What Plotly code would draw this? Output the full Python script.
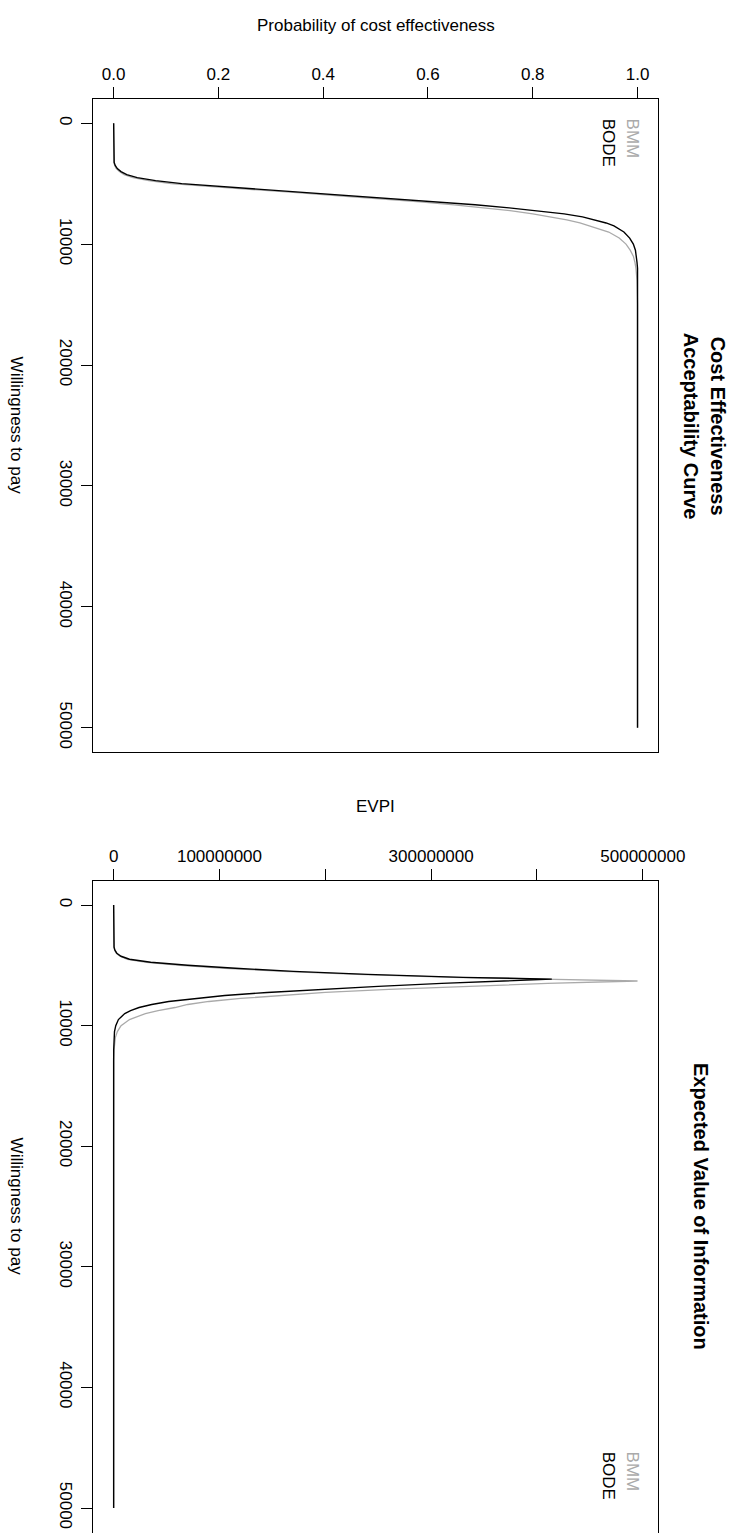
import plotly.graph_objects as go

W_PX, H_PX = 754, 1533

# ---------------- data ----------------
wtp = [0, 1000, 2000, 3000, 3250, 3500, 3750, 4000, 4250, 4500, 4750, 5000,
       5250, 5500, 5750, 6000, 6150, 6300, 6500, 6750, 7000, 7250, 7500, 7750,
       8000, 8250, 8500, 8750, 9000, 9500, 10000, 10500, 11000, 11500, 12000,
       13000, 14000, 15000, 20000, 30000, 40000, 50000]

ceac_bode = [0, 0, 0, 0, 0.001, 0.003, 0.007, 0.014, 0.025, 0.045, 0.08, 0.13,
             0.21, 0.30, 0.38, 0.46, 0.51, 0.555, 0.62, 0.69, 0.755, 0.81, 0.86, 0.895,
             0.92, 0.94, 0.955, 0.966, 0.974, 0.985, 0.992, 0.996, 0.998, 0.999, 1.0,
             1.0, 1.0, 1.0, 1.0, 1.0, 1.0, 1.0]

ceac_bmm = [0, 0, 0, 0, 0.0005, 0.002, 0.005, 0.011, 0.02, 0.037, 0.067, 0.11,
            0.185, 0.27, 0.35, 0.43, 0.48, 0.525, 0.585, 0.65, 0.71, 0.76, 0.80, 0.835,
            0.865, 0.89, 0.91, 0.93, 0.945, 0.965, 0.978, 0.986, 0.992, 0.995, 0.997,
            0.999, 1.0, 1.0, 1.0, 1.0, 1.0, 1.0]

evpi_bode = [0, 0, 0, 0, 1e5, 4e5, 1.2e6, 3e6, 7e6, 1.5e7, 3.5e7, 7e7,
             1.15e8, 1.7e8, 2.4e8, 3.3e8, 4.14e8, 3.68e8, 3.1e8, 2.5e8, 1.9e8, 1.45e8, 1.05e8, 7.5e7,
             5.2e7, 3.6e7, 2.4e7, 1.6e7, 1.05e7, 4.5e6, 2e6, 8e5, 3.5e5, 1.5e5, 5e4,
             0, 0, 0, 0, 0, 0, 0]

evpi_bmm = [0, 0, 0, 0, 8e4, 3e5, 1e6, 2.5e6, 6e6, 1.3e7, 3.1e7, 6.3e7,
            1.05e8, 1.6e8, 2.3e8, 3.2e8, 4.05e8, 4.95e8, 4.1e8, 3.3e8, 2.6e8, 2.0e8, 1.55e8, 1.2e8,
            9e7, 7e7, 5.8e7, 4.2e7, 3e7, 1.5e7, 7e6, 3.5e6, 1.6e6, 8e5, 4e5,
            1e5, 0, 0, 0, 0, 0, 0]

wtp_ticks = [0, 10000, 20000, 30000, 40000, 50000]
prob_ticks = [0.0, 0.2, 0.4, 0.6, 0.8, 1.0]
prob_labels = ["0.0", "0.2", "0.4", "0.6", "0.8", "1.0"]
evpi_ticks = [0, 1e8, 2e8, 3e8, 4e8, 5e8]
evpi_labels = ["0", "100000000", "", "300000000", "", "500000000"]

series_names = ["BMM", "BODE"]
series_colors = ["#aaaaaa", "#000000"]

FONT = "Liberation Sans, Arial, Helvetica, sans-serif"
FS = 17

def px(x):
    return x / W_PX

def py(y):
    return 1 - y / H_PX

fig = go.Figure()

# panel 1: CEAC
fig.add_trace(go.Scatter(x=ceac_bmm, y=wtp, mode="lines", line=dict(color=series_colors[0], width=1.3),
                         xaxis="x", yaxis="y", showlegend=False))
fig.add_trace(go.Scatter(x=ceac_bode, y=wtp, mode="lines", line=dict(color=series_colors[1], width=1.4),
                         xaxis="x", yaxis="y", showlegend=False))
# panel 2: EVPI
fig.add_trace(go.Scatter(x=evpi_bmm, y=wtp, mode="lines", line=dict(color=series_colors[0], width=1.3),
                         xaxis="x2", yaxis="y2", showlegend=False))
fig.add_trace(go.Scatter(x=evpi_bode, y=wtp, mode="lines", line=dict(color=series_colors[1], width=1.4),
                         xaxis="x2", yaxis="y2", showlegend=False))

xdom = [px(96), px(682)]
common_x = dict(side="top", showgrid=False, zeroline=False, showline=True,
                linecolor="black", linewidth=1, ticks="outside", ticklen=11, tickwidth=1,
                tickcolor="black", tickfont=dict(family=FONT, size=FS, color="black"),
                tickangle=0)
common_y = dict(showgrid=False, zeroline=False, showline=True, mirror=True,
                linecolor="black", linewidth=1, ticks="outside", ticklen=11, tickwidth=1,
                tickcolor="black", tickfont=dict(family=FONT, size=FS, color="black"),
                tickangle=90, tickvals=wtp_ticks, ticktext=[str(v) for v in wtp_ticks])

fig.update_layout(
    width=W_PX, height=H_PX, margin=dict(l=0, r=0, t=0, b=0),
    paper_bgcolor="white", plot_bgcolor="white",
    xaxis=dict(domain=xdom, anchor="y", range=[-0.04, 1.04], mirror=True,
               tickvals=prob_ticks, ticktext=prob_labels, **common_x),
    yaxis=dict(domain=[py(752), py(99)], anchor="x", range=[52000, -2000], **common_y),
    xaxis2=dict(domain=xdom, anchor="y2", range=[-0.04 * 4.95e8, 1.04 * 4.95e8], mirror=False,
                tickvals=evpi_ticks, ticktext=evpi_labels, **common_x),
    yaxis2=dict(domain=[0, py(881)], anchor="x2", range=[52073, -1990], **common_y),
)

ann = []
def text(x, y, s, angle=0, size=FS, color="black", bold=False, xa="center", ya="middle"):
    ann.append(dict(x=px(x), y=py(y), xref="paper", yref="paper", text=("<b>%s</b>" % s) if bold else s,
                    textangle=angle, showarrow=False, xanchor=xa, yanchor=ya,
                    font=dict(family=FONT, size=size, color=color)))

# panel 1 texts
text(389, 25, "Probability of cost effectiveness")
text(18, 426, "Willingness to pay", angle=90)
text(744, 426, "Cost Effectiveness", angle=90, size=20, bold=True)
text(716, 426, "Acceptability Curve", angle=90, size=20, bold=True)
text(656, 117, series_names[0], angle=90, color="#aaaaaa", ya="top")
text(631, 117, series_names[1], angle=90, color="black", ya="top")

# panel 2 texts
text(389, 806, "EVPI")
text(18, 1207, "Willingness to pay", angle=90)
text(726, 1207, "Expected Value of Information", angle=90, size=20, bold=True)
text(656, 1450, series_names[0], angle=90, color="#aaaaaa", ya="top")
text(631, 1450, series_names[1], angle=90, color="black", ya="top")

fig.update_layout(annotations=ann)
fig.write_html("out.html")
